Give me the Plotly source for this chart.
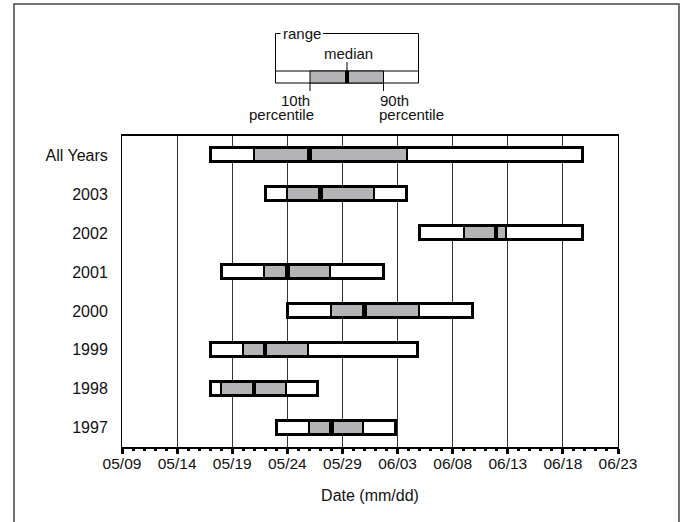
import plotly.graph_objects as go

# ---- data (days after 05/09) ----
categories = ["All Years", "2003", "2002", "2001", "2000", "1999", "1998", "1997"]
range_min = [8.05, 13.05, 27.05, 9.05, 15.05, 8.05, 8.05, 14.1]
pct10 = [12.0, 15.0, 31.05, 12.9, 19.0, 10.95, 8.95, 16.95]
median = [17.0, 18.0, 33.95, 15.0, 22.0, 13.0, 12.0, 19.0]
pct90 = [25.85, 22.85, 34.85, 18.9, 26.9, 16.85, 14.9, 21.9]
range_max = [41.8, 25.85, 41.8, 23.8, 31.85, 26.85, 17.8, 24.9]
tick_labels = ["05/09", "05/14", "05/19", "05/24", "05/29", "06/03",
               "06/08", "06/13", "06/18", "06/23"]
tick_days = [0, 5, 10, 15, 20, 25, 30, 35, 40, 45]

GREY = "#b4b4b7"
FONT = "Liberation Sans, Arial, sans-serif"
W, H = 683, 522
ML, MR, MT, MB = 122, 65, 136, 75
PW, PH = W - ML - MR, H - MT - MB
BAR_W = 0.36
MED_HALF = 0.2


def px(xp):
    return (xp - ML) / PW


def py(yp):
    return (H - MB - yp) / PH


fig = go.Figure()
fig.add_trace(go.Bar(
    y=categories, base=range_min,
    x=[b - a for a, b in zip(range_min, range_max)],
    orientation="h", width=BAR_W,
    marker=dict(color="white", line=dict(width=0)),
    hoverinfo="skip", showlegend=False))
fig.add_trace(go.Bar(
    y=categories, base=pct10,
    x=[b - a for a, b in zip(pct10, pct90)],
    orientation="h", width=BAR_W,
    marker=dict(color=GREY, line=dict(color="black", width=2)),
    hoverinfo="skip", showlegend=False))
fig.add_trace(go.Bar(
    y=categories, base=[m - MED_HALF for m in median],
    x=[2 * MED_HALF] * len(median),
    orientation="h", width=BAR_W,
    marker=dict(color="black", line=dict(width=0)),
    hoverinfo="skip", showlegend=False))
fig.add_trace(go.Bar(
    y=categories, base=range_min,
    x=[b - a for a, b in zip(range_min, range_max)],
    orientation="h", width=BAR_W,
    marker=dict(color="rgba(0,0,0,0)", line=dict(color="black", width=3)),
    hoverinfo="skip", showlegend=False))

shapes = []
# outer frame
shapes.append(dict(type="rect", xref="paper", yref="paper",
                   x0=px(14), x1=px(679), y0=py(530), y1=py(4),
                   line=dict(color="#444", width=1.5), fillcolor="rgba(0,0,0,0)"))
# legend key
L = dict(color="black", width=1)
for (x0, y0, x1, y1) in [(275.5, 33.5, 280.5, 33.5), (323, 33.5, 418.5, 33.5),
                         (275.5, 33.5, 275.5, 71), (418.5, 33.5, 418.5, 71),
                         (347, 62, 347, 71), (310, 83, 310, 91),
                         (383.5, 83, 383.5, 91)]:
    shapes.append(dict(type="line", xref="paper", yref="paper",
                       x0=px(x0), x1=px(x1), y0=py(y0), y1=py(y1), line=L))
shapes.append(dict(type="rect", xref="paper", yref="paper",
                   x0=px(275.5), x1=px(418.5), y0=py(83), y1=py(71),
                   line=L, fillcolor="white"))
shapes.append(dict(type="rect", xref="paper", yref="paper",
                   x0=px(310), x1=px(383.5), y0=py(83), y1=py(71),
                   line=L, fillcolor=GREY))
shapes.append(dict(type="rect", xref="paper", yref="paper",
                   x0=px(345), x1=px(349), y0=py(83), y1=py(71),
                   line=dict(width=0), fillcolor="black"))

annotations = []
for text, xc, yc in [("range", 302, 34), ("median", 348, 54),
                     ("10th", 295, 100.5), ("percentile", 281, 114),
                     ("90th", 394, 100.5), ("percentile", 411, 114)]:
    annotations.append(dict(text=text, xref="paper", yref="paper",
                            x=px(xc), y=py(yc), xanchor="center", yanchor="middle",
                            showarrow=False, font=dict(size=15, color="#111", family=FONT)))

fig.update_layout(
    width=W, height=H, margin=dict(l=ML, r=MR, t=MT, b=MB),
    paper_bgcolor="white", plot_bgcolor="white",
    barmode="overlay", bargap=0,
    font=dict(family=FONT, color="#111"),
    shapes=shapes, annotations=annotations,
    xaxis=dict(range=[0, 45], tickmode="array", tickvals=tick_days, ticktext=tick_labels,
               showgrid=True, gridcolor="#333", gridwidth=1,
               showline=True, linecolor="black", linewidth=2, mirror=True,
               ticks="outside", ticklen=5, tickwidth=3, tickcolor="black",
               minor=dict(dtick=1, tick0=0, ticks="outside", ticklen=2, tickwidth=3,
                          tickcolor="black", showgrid=False),
               tickfont=dict(size=15.5, color="#111"), ticklabelstandoff=-4,
               title=dict(text="Date (mm/dd)", font=dict(size=16, color="#111"), standoff=19),
               zeroline=False, fixedrange=True),
    yaxis=dict(type="category", categoryorder="array", categoryarray=categories,
               range=[len(categories) - 0.5, -0.5], showgrid=False,
               showline=True, linecolor="black", linewidth=1, mirror=True,
               ticks="", ticklabelstandoff=10,
               tickfont=dict(size=16, color="#111"), fixedrange=True),
)

fig.write_html("out.html", config={"displayModeBar": False},
               post_script="document.body.style.margin='0';document.body.style.overflow='hidden';")
